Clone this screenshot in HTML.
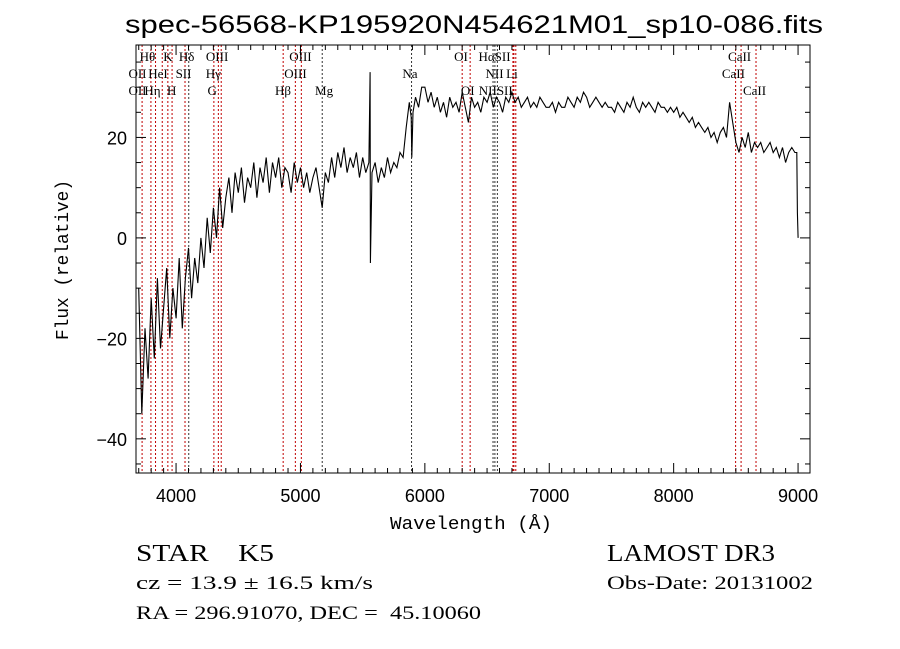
<!DOCTYPE html>
<html><head><meta charset="utf-8"><style>
body{margin:0;background:#fff;}
svg{display:block;}
text{fill:#000;}
</style></head><body>
<svg id="chart" width="900" height="649" xmlns="http://www.w3.org/2000/svg">
<rect width="900" height="649" fill="#fff"/>
<text x="125" y="33" font-family="Liberation Sans, sans-serif" font-size="25" textLength="698" lengthAdjust="spacingAndGlyphs">spec-56568-KP195920N454621M01_sp10-086.fits</text>
<g id="lines"></g>
<g id="labels" font-family="Liberation Serif, serif" font-size="13"></g>
<path id="spec" fill="none" stroke="#000" stroke-width="1.1"/>
<rect x="136" y="45" width="674" height="428" fill="none" stroke="#000" stroke-width="1"/>
<g id="axes" font-family="Liberation Sans, sans-serif" font-size="18"></g>
<text x="390" y="529" font-family="Liberation Mono, monospace" font-size="18" textLength="162" lengthAdjust="spacingAndGlyphs">Wavelength (Å)</text>
<text transform="translate(68,340) rotate(-90)" font-family="Liberation Mono, monospace" font-size="18" textLength="160" lengthAdjust="spacingAndGlyphs">Flux (relative)</text>
<text x="136" y="561" font-family="Liberation Serif, serif" font-size="24" xml:space="preserve" textLength="138" lengthAdjust="spacingAndGlyphs">STAR    K5</text>
<text x="607" y="561" font-family="Liberation Serif, serif" font-size="24" textLength="168" lengthAdjust="spacingAndGlyphs">LAMOST DR3</text>
<text x="136" y="589" font-family="Liberation Serif, serif" font-size="19" textLength="237" lengthAdjust="spacingAndGlyphs">cz = 13.9 ± 16.5 km/s</text>
<text x="607" y="589" font-family="Liberation Serif, serif" font-size="19" textLength="206" lengthAdjust="spacingAndGlyphs">Obs-Date: 20131002</text>
<text x="136" y="619" font-family="Liberation Serif, serif" font-size="19" xml:space="preserve" textLength="345" lengthAdjust="spacingAndGlyphs">RA = 296.91070, DEC =  45.10060</text>
</svg>
<script>
const waveBlue = [3700,3725,3750,3775,3800,3825,3850,3875,3900,3925,3950,3975,4000,4025,4050,4075,4100,4125,4150,4175,4200,4225,4250,4275,4300,4325,4350,4375,4400,4425,4450,4475,4500,4525,4550,4575,4600,4625,4650,4675,4700,4725,4750,4775,4800,4825,4850,4875,4900,4925,4950,4975,5000,5025,5050,5075,5100,5125,5150,5175,5200,5225,5250,5275,5300,5325,5350,5375,5400,5425,5450,5475,5500,5525,5550,5560,5562,5575,5600,5625,5650,5675,5700,5725,5750,5775,5800,5825,5850,5875,5890,5895,5905,5925,5950,5975];
const fluxBlue = [-10,-35,-18,-28,-12,-24,-8,-22,-14,-6,-20,-10,-16,-4,-18,-8,-2,-12,-4,-9,0,-6,4,-3,6,0,10,2,8,12,5,13,9,14,7,12,10,15,8,14,11,16,9,15,12,16,10,14,13,9,15,11,14,10,13,9,12,14,10,6,13,11,16,12,17,14,18,13,16,14,17,12,16,13,15,33,-5,13,15,11,14,12,16,13,15,14,17,16,22,27,24,16,25,28,26,30];
const fluxRed = [30,27,29,26,28,25,27,24,28,26,27,25,29,26,23,28,26,27,25,28,
27,29,26,28,27,25,28,27,29,27,28,26,27,28,26,27,26,28,27,26,
26,27,25,27,26,26,28,27,26,28,27,29,28,26,27,28,27,26,27,26,
26,25,27,26,25,27,26,28,26,25,27,26,27,26,25,27,26,26,25,26,
25,26,24,25,24,23,24,22,23,22,21,22,20,21,19,21,22,20,27,23,
19,17,20,18,21,17,19,18,19,17,18,19,17,18,16,18,15,17,18,17,17,5,0];
const redStart = 6000, redStep = 25;
const lineWaves = [3727,3798,3835,3889,3934,3968,4072,4102,4304,4340,4363,4861,4959,5007,5175,5893,6300,6364,6548,6563,6583,6708,6716,6731,8498,8542,8662];
const lineBlack = [0,0,0,0,0,0,0,1,0,0,0,0,0,0,1,1,0,0,1,1,1,0,0,0,0,0,0];
const labelText = ["Hθ","K","Hδ","OIII","OIII","OI","HαSII","CaII","OII","HeI","SII","Hγ","OIII","Na","NII","Li","CaII","OII","Hη","H","G","Hβ","Mg","OI","NIISII","CaII"];
const labelWave = [3770,3935,4085,4330,5000,6290,6560,8530,3690,3855,4060,4300,4960,5880,6560,6700,8480,3690,3810,3965,4290,4860,5190,6345,6570,8650];
const labelRow = [0,0,0,0,0,0,0,0,1,1,1,1,1,1,1,1,1,2,2,2,2,2,2,2,2,2];
const xTicks = [4000,5000,6000,7000,8000,9000];
const yTicks = [-40,-20,0,20];

const X0=136,X1=810,Y0=45,Y1=473,WMIN=3678,WMAX=9096,FMIN=-46.8,FMAX=38.4;
function xs(w){return X0+(w-WMIN)/(WMAX-WMIN)*(X1-X0);}
function ys(f){return Y1-(f-FMIN)/(FMAX-FMIN)*(Y1-Y0);}
const NS="http://www.w3.org/2000/svg";
function mk(tag,attrs,parent){const e=document.createElementNS(NS,tag);for(const k in attrs)e.setAttribute(k,attrs[k]);parent.appendChild(e);return e;}

const pts=[];
for(let i=0;i<waveBlue.length;i++)pts.push([waveBlue[i],fluxBlue[i]]);
for(let i=0;i<fluxRed.length;i++){let w=redStart+i*redStep;if(i===fluxRed.length-3)w=8990;if(i===fluxRed.length-2)w=8995;if(i===fluxRed.length-1)w=9000;pts.push([w,fluxRed[i]]);}
let d="";
pts.forEach((p,i)=>{d+=(i?"L":"M")+xs(p[0]).toFixed(1)+","+ys(p[1]).toFixed(1);});
document.getElementById('spec').setAttribute('d',d);

const lg=document.getElementById('lines');
for(let i=0;i<lineWaves.length;i++){
  const x=xs(lineWaves[i]);
  const l=mk('line',{x1:x,x2:x,y1:Y0,y2:Y1,stroke:lineBlack[i]?'#333':'#c00000','stroke-width':1,'stroke-dasharray':'2,2'},lg);
  
  
}
const lb=document.getElementById('labels');
const rowY=[61,78,95];
for(let i=0;i<labelText.length;i++){
  const t=mk('text',{x:xs(labelWave[i]),y:rowY[labelRow[i]],'text-anchor':'middle'},lb);
  t.textContent=labelText[i];
  
  
}

const ax=document.getElementById('axes');
for(let w=3700;w<=9000;w+=100){
  const x=xs(w);const major=w%1000===0;const len=major?10:5;
  mk('line',{x1:x,x2:x,y1:Y1,y2:Y1-len,stroke:'#000'},ax);
  mk('line',{x1:x,x2:x,y1:Y0,y2:Y0+len,stroke:'#000'},ax);
}
for(const w of xTicks){
  const t=mk('text',{x:xs(w),y:502,'text-anchor':'middle'},ax);
  t.textContent=w;
  
  
}
for(let f=-45;f<=35;f+=5){
  const y=ys(f);const major=f%20===0;const len=major?10:5;
  mk('line',{x1:X0,x2:X0+len,y1:y,y2:y,stroke:'#000'},ax);
  mk('line',{x1:X1,x2:X1-len,y1:y,y2:y,stroke:'#000'},ax);
}
for(const f of yTicks){
  const t=mk('text',{x:127,y:ys(f)+7,'text-anchor':'end'},ax);
  t.textContent=f<0?'\u2212'+(-f):String(f);
  
  
}
</script>
</body></html>
